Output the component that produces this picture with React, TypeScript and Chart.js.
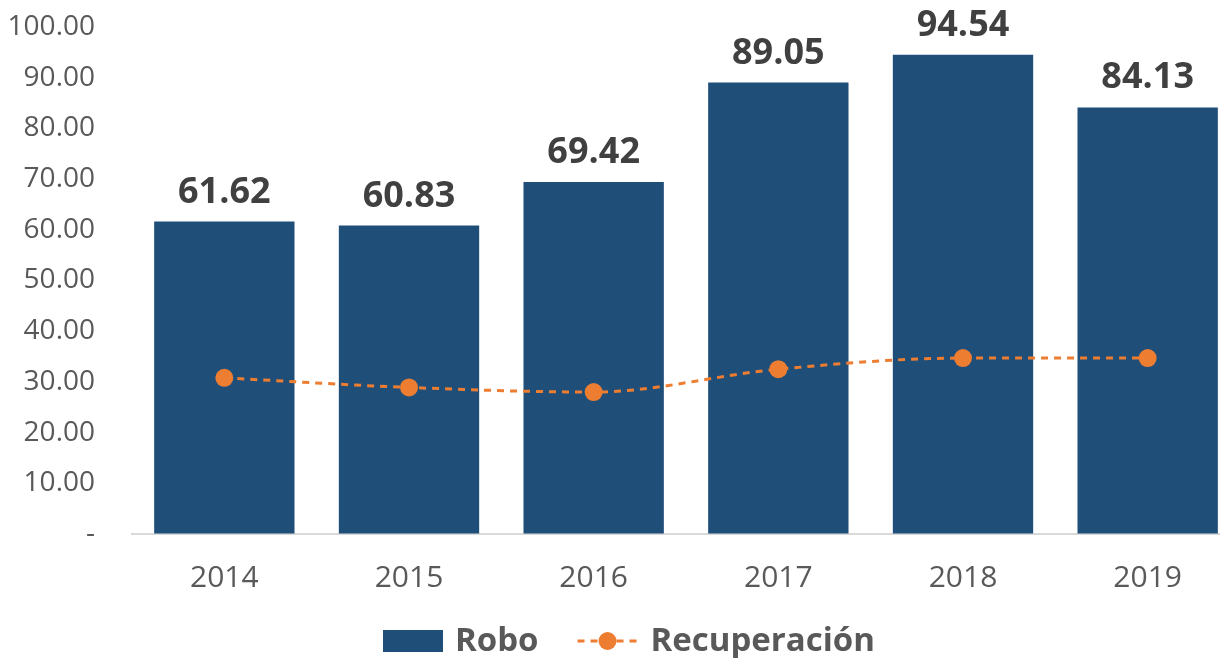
import React, { useEffect, useRef } from "react";
import { Chart, registerables } from "chart.js";

Chart.register(...registerables);

const categories = ["2014", "2015", "2016", "2017", "2018", "2019"];
const roboValues = [61.62, 60.83, 69.42, 89.05, 94.54, 84.13];
const recuperacionValues = [30.8, 28.9, 28.0, 32.5, 34.7, 34.7];
const yTickValues = [0, 10, 20, 30, 40, 50, 60, 70, 80, 90, 100];

const FONT = "'Open Sans', 'DejaVu Sans', sans-serif";
const BAR_COLOR = "#1F4E79";
const LINE_COLOR = "#ED7D31";
const TEXT_COLOR = "#595959";

const W = 1249;
const H = 658;

const dataLabelPlugin = {
  id: "dataLabels",
  afterDatasetsDraw(chart: any) {
    const ctx = chart.ctx;
    const meta = chart.getDatasetMeta(0);
    ctx.save();
    ctx.font = `bold 36px ${FONT}`;
    ctx.fillStyle = "#404040";
    ctx.textAlign = "center";
    ctx.textBaseline = "alphabetic";
    meta.data.forEach((bar: any, i: number) => {
      ctx.fillText(roboValues[i].toFixed(2), bar.x, bar.y - 19);
    });
    ctx.restore();
  },
};

const legendPlugin = {
  id: "customLegend",
  afterDraw(chart: any) {
    const ctx = chart.ctx;
    ctx.save();
    const cy = 641;
    ctx.font = `bold 33px ${FONT}`;
    ctx.textBaseline = "middle";
    ctx.textAlign = "left";
    let x = 383;
    ctx.fillStyle = BAR_COLOR;
    ctx.fillRect(x, cy - 11, 60, 22);
    x += 72;
    ctx.fillStyle = TEXT_COLOR;
    ctx.fillText("Robo", x, cy + 1);
    x += ctx.measureText("Robo").width + 39;
    ctx.strokeStyle = LINE_COLOR;
    ctx.lineWidth = 3;
    ctx.setLineDash([7, 6]);
    ctx.beginPath();
    ctx.moveTo(x, cy);
    ctx.lineTo(x + 60, cy);
    ctx.stroke();
    ctx.setLineDash([]);
    ctx.fillStyle = LINE_COLOR;
    ctx.beginPath();
    ctx.arc(x + 30, cy, 9, 0, Math.PI * 2);
    ctx.fill();
    x += 73;
    ctx.fillStyle = TEXT_COLOR;
    ctx.fillText("Recuperación", x, cy + 1);
    ctx.restore();
  },
};

export default function App() {
  const ref = useRef<HTMLCanvasElement | null>(null);

  useEffect(() => {
    if (!ref.current) return;
    const chart = new Chart(ref.current, {
      type: "bar",
      data: {
        labels: categories,
        datasets: [
          {
            type: "bar",
            label: "Robo",
            data: roboValues,
            backgroundColor: BAR_COLOR,
            categoryPercentage: 1,
            barPercentage: 0.76,
            order: 2,
          },
          {
            type: "line",
            label: "Recuperación",
            data: recuperacionValues,
            borderColor: LINE_COLOR,
            backgroundColor: LINE_COLOR,
            borderWidth: 3,
            borderDash: [7, 6],
            pointRadius: 9,
            pointBorderWidth: 0,
            pointBackgroundColor: LINE_COLOR,
            cubicInterpolationMode: "monotone",
            order: 1,
          },
        ],
      },
      options: {
        responsive: false,
        animation: false,
        layout: { padding: { top: 27, right: 4, bottom: 62, left: 0 } },
        plugins: {
          legend: { display: false },
          tooltip: { enabled: false },
        },
        scales: {
          x: {
            grid: {
              display: true,
              drawOnChartArea: false,
              drawTicks: true,
              tickLength: 26,
              color: "rgba(0,0,0,0)",
            },
            border: { display: true, color: "#D9D9D9", width: 2 },
            ticks: {
              color: TEXT_COLOR,
              font: { family: FONT, size: 30 },
              padding: 0,
            },
          },
          y: {
            min: 0,
            max: 100,
            afterBuildTicks(scale: any) {
              scale.ticks = yTickValues.map((v) => ({ value: v }));
            },
            grid: {
              display: true,
              drawOnChartArea: false,
              drawTicks: true,
              tickLength: 37,
              color: "rgba(0,0,0,0)",
            },
            border: { display: false },
            ticks: {
              color: TEXT_COLOR,
              font: { family: FONT, size: 28 },
              padding: 0,
              callback: (v: any) => (Number(v) === 0 ? "-" : Number(v).toFixed(2)),
            },
            afterFit(scale: any) {
              scale.width = 132;
            },
          },
        },
      },
      plugins: [dataLabelPlugin, legendPlugin],
    });
    return () => chart.destroy();
  }, []);

  return (
    <div
      style={{
        position: "absolute",
        left: 0,
        top: 0,
        width: 1220,
        height: 658,
        overflow: "hidden",
        background: "#fff",
      }}
    >
      <canvas ref={ref} width={W} height={H} style={{ display: "block" }} />
    </div>
  );
}
